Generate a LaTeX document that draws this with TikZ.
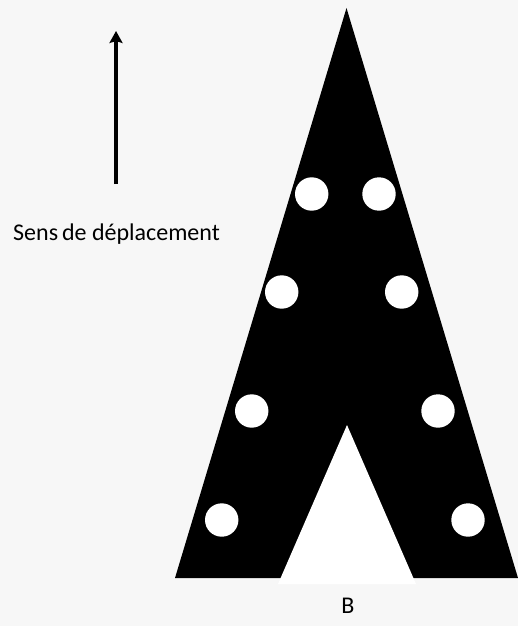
\documentclass[tikz,border=0pt]{standalone}
\usepackage{fontspec}
\setmainfont{Carlito}
\usetikzlibrary{arrows.meta}
\definecolor{bg}{HTML}{F7F7F7}
\tikzset{
  hole/.style={fill=white},
  lbl/.style={inner sep=0pt, font=\fontsize{24}{28}\selectfont}
}
\begin{document}
\begin{tikzpicture}[x=1pt,y=-1pt]
\fill[bg] (0,0) rectangle (518,626);
\useasboundingbox (0,0) rectangle (518,626);
\fill[black] (346.5,8) -- (175,578) -- (518,578) -- cycle;
\fill[white] (347,425) -- (278,584) -- (416,584) -- cycle;
\foreach \x/\y in {311.7/194, 379/194, 281.7/292, 401.7/292, 251.7/411, 438/411, 221.7/520, 468/520}
  \fill[hole] (\x,\y) circle (16.7);
\coordinate (a0) at (116,184);
\coordinate (a1) at (116,31);
\draw[line width=4pt, -{Stealth[length=12pt,width=13pt,inset=2pt]}] (a0) -- (a1);
\node[lbl, anchor=base west] (t) at (13,240) {Sens\kern-1.5pt{} de déplacement};
\node[lbl, anchor=base] (b) at (348,613) {B};
\end{tikzpicture}
\end{document}
